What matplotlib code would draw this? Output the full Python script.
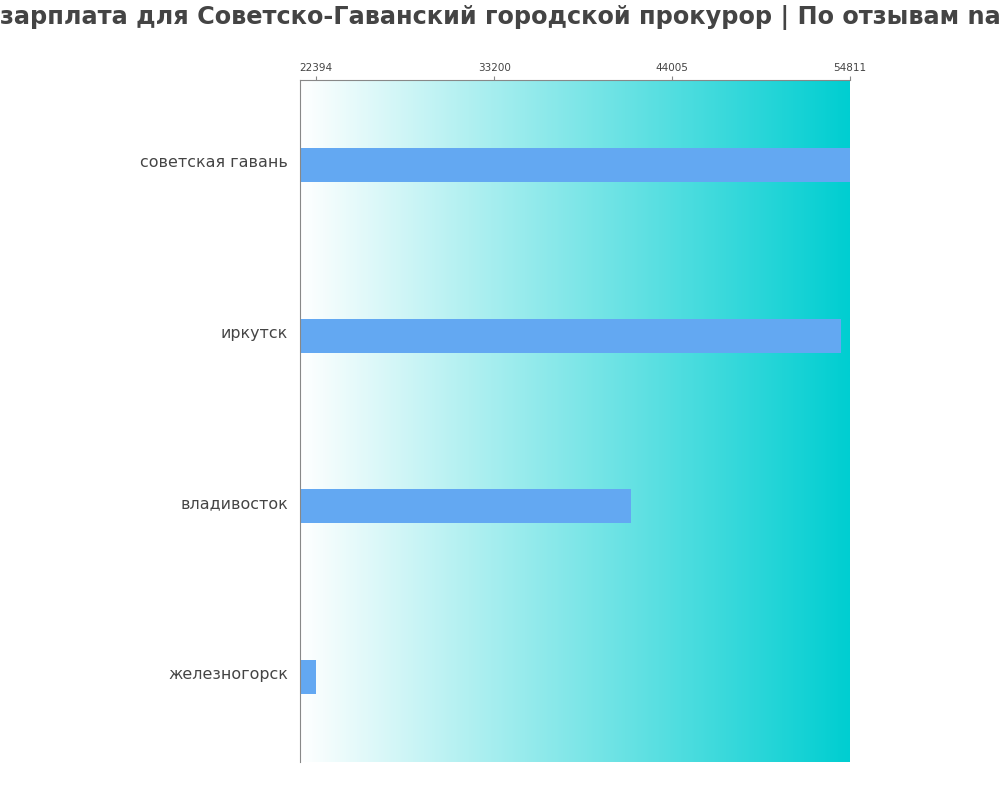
import numpy as np
import matplotlib
matplotlib.use("Agg")
import matplotlib.pyplot as plt
from matplotlib.colors import LinearSegmentedColormap
from matplotlib.transforms import ScaledTranslation

plt.rcParams['font.family'] = ['DejaVu Sans']

categories = ["советская гавань", "иркутск", "владивосток", "железногорск"]
values = [54811, 54265, 41510, 22394]
tick_values = [22394, 33200, 44005, 54811]
tick_labels = ["22394", "33200", "44005", "54811"]
title = "зарплата для Советско-Гаванский городской прокурор | По отзывам na"

fig = plt.figure(figsize=(10, 8), dpi=100)
ax = fig.add_axes([0.30, 0.0475, 0.55, 0.8525])

xmin = 21410
xmax = 54811
ax.set_xlim(xmin, xmax)
ax.set_ylim(len(categories) - 0.5, -0.5)

cmap = LinearSegmentedColormap.from_list("bg", ["#ffffff", "#00ced1"])
grad = np.linspace(0, 1, 256).reshape(1, -1)
ax.imshow(grad, cmap=cmap, aspect='auto', extent=[xmin, xmax, len(categories) - 0.5, -0.5], zorder=0)

y = np.arange(len(categories))
ax.barh(y, [v - xmin for v in values], left=xmin, height=0.2, color="#63a8f2", zorder=2)

ax.set_yticks(y)
ax.set_yticklabels(categories, fontsize=11.4, color="#444444")
ax.tick_params(axis='y', length=0, pad=8.5)
offset = ScaledTranslation(0, 3 / 72, fig.dpi_scale_trans)
for lbl in ax.get_yticklabels():
    lbl.set_transform(lbl.get_transform() + offset)

ax.xaxis.tick_top()
ax.set_xticks(tick_values)
ax.set_xticklabels(tick_labels, fontsize=7.5, color="#444444")
ax.tick_params(axis='x', length=3, color="#888888", pad=2)

for s in ['right', 'bottom']:
    ax.spines[s].set_visible(False)
for s in ['left', 'top']:
    ax.spines[s].set_color("#888888")

fig.text(0.0, 0.978, title, ha='left', va='center', fontsize=17.3, fontweight='bold', color="#444444")

fig.savefig("out.png", dpi=100)
